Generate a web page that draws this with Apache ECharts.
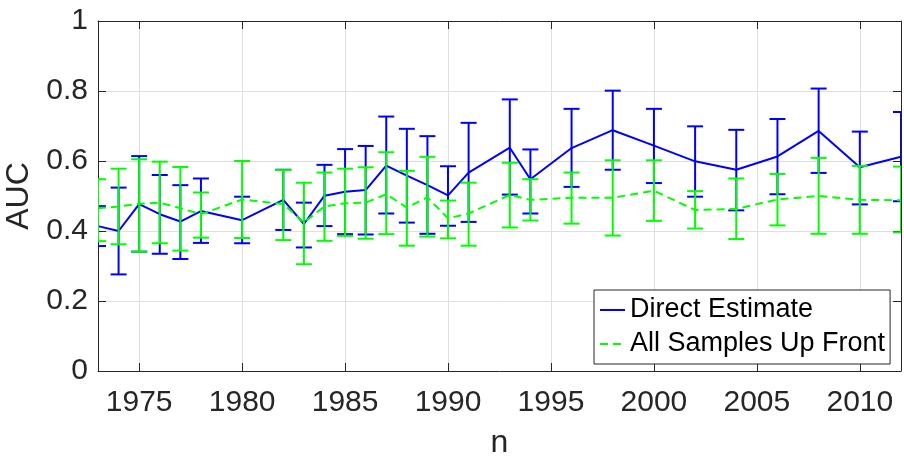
<!DOCTYPE html>
<html>
<head>
<meta charset="utf-8">
<script src="https://cdn.jsdelivr.net/npm/echarts@6/dist/echarts.min.js"></script>
<style>html,body{margin:0;padding:0;background:#fff}#c{width:904px;height:460px}</style>
</head>
<body>
<div id="c"></div>
<script>
const years = [1973,1974,1975,1976,1977,1978,1980,1982,1983,1984,1985,1986,1987,1988,1989,1990,1991,1993,1994,1996,1998,2000,2002,2004,2006,2008,2010,2012];

const directMean  = [0.414,0.400,0.477,0.448,0.427,0.457,0.431,0.489,0.420,0.501,0.512,0.517,0.587,0.558,0.531,0.502,0.567,0.638,0.548,0.637,0.688,0.644,0.599,0.575,0.613,0.686,0.582,0.612];
const directUpper = [0.471,0.524,0.614,0.560,0.531,0.550,0.498,0.575,0.481,0.589,0.634,0.643,0.727,0.692,0.671,0.585,0.709,0.776,0.633,0.749,0.801,0.749,0.699,0.689,0.720,0.807,0.684,0.740];
const directLower = [0.357,0.276,0.341,0.335,0.320,0.366,0.365,0.403,0.353,0.414,0.391,0.390,0.450,0.424,0.392,0.415,0.426,0.504,0.450,0.526,0.575,0.537,0.498,0.459,0.505,0.566,0.476,0.485];

const upfrontMean  = [0.465,0.470,0.478,0.481,0.465,0.448,0.490,0.477,0.424,0.470,0.479,0.481,0.505,0.467,0.496,0.436,0.450,0.503,0.489,0.495,0.495,0.515,0.460,0.463,0.490,0.500,0.489,0.488];
const upfrontUpper = [0.548,0.578,0.605,0.598,0.583,0.510,0.600,0.574,0.538,0.567,0.578,0.582,0.625,0.572,0.612,0.487,0.538,0.595,0.548,0.567,0.602,0.602,0.514,0.550,0.563,0.609,0.586,0.584];
const upfrontLower = [0.371,0.362,0.341,0.365,0.344,0.381,0.380,0.374,0.305,0.372,0.386,0.378,0.391,0.358,0.384,0.379,0.358,0.410,0.430,0.421,0.387,0.429,0.407,0.377,0.416,0.392,0.392,0.396];

const seriesNames = ['Direct Estimate', 'All Samples Up Front'];
const xTitle = 'n';
const yTitle = 'AUC';

const BLUE = '#0000ff', GREEN = '#00ff00', AX = '#262626';
const FONT = 'Liberation Sans, Arial, Helvetica, sans-serif';

function errData(lo, hi) { return years.map((y, i) => [y, lo[i], hi[i]]); }
function errRender(color) {
  return function (params, api) {
    const x = api.value(0);
    const lo = api.coord([x, api.value(1)]);
    const hi = api.coord([x, api.value(2)]);
    const h = 8;
    const st = { stroke: color, lineWidth: 2 };
    return {
      type: 'group',
      children: [
        { type: 'line', shape: { x1: lo[0], y1: lo[1], x2: hi[0], y2: hi[1] }, style: st },
        { type: 'line', shape: { x1: lo[0] - h, y1: lo[1], x2: lo[0] + h, y2: lo[1] }, style: st },
        { type: 'line', shape: { x1: hi[0] - h, y1: hi[1], x2: hi[0] + h, y2: hi[1] }, style: st }
      ]
    };
  };
}

const chart = echarts.init(document.getElementById('c'), null, { renderer: 'canvas' });
const xCommon = { type: 'value', min: 1973, max: 2012, splitNumber: 8, gridIndex: 0 };
const yCommon = { type: 'value', min: 0, max: 1, interval: 0.2 };
chart.setOption({
  animation: false,
  backgroundColor: '#fff',
  textStyle: { fontFamily: FONT },
  grid: { left: 98, top: 21, width: 803, height: 350, outerBoundsMode: 'none', containLabel: false },
  legend: {
    left: 594, top: 290, orient: 'vertical',
    data: seriesNames,
    backgroundColor: '#fff', borderColor: AX, borderWidth: 1, borderRadius: 0,
    padding: [5, 5, 5, 5], itemGap: 4, itemWidth: 25, itemHeight: 14,
    itemStyle: { opacity: 0 },
    textStyle: { fontSize: 27, color: '#000', fontFamily: FONT, lineHeight: 30 }
  },
  xAxis: [
    Object.assign({}, xCommon, {
      position: 'bottom',
      name: xTitle, nameLocation: 'middle', nameGap: 56,
      nameTextStyle: { fontSize: 32, color: AX, fontFamily: FONT },
      axisLine: { lineStyle: { color: AX, width: 1 } },
      axisTick: { inside: true, length: 8, lineStyle: { color: AX } },
      axisLabel: { fontSize: 30, color: AX, margin: 17, showMinLabel: false, showMaxLabel: false, fontFamily: FONT,
                   formatter: v => String(v) },
      splitLine: { show: true, lineStyle: { color: '#dfdfdf', width: 1 } }
    }),
    Object.assign({}, xCommon, {
      position: 'top',
      axisLine: { show: true, onZero: false, lineStyle: { color: AX, width: 1 } },
      axisTick: { inside: true, length: 8, lineStyle: { color: AX } },
      axisLabel: { show: false },
      splitLine: { show: false }
    })
  ],
  yAxis: [
    Object.assign({}, yCommon, {
      position: 'left',
      name: yTitle, nameLocation: 'middle', nameGap: 49, nameRotate: 90,
      nameTextStyle: { fontSize: 32, color: AX, fontFamily: FONT },
      axisLine: { show: true, lineStyle: { color: AX, width: 1 } },
      axisTick: { show: true, inside: true, length: 8, lineStyle: { color: AX } },
      axisLabel: { fontSize: 30, color: AX, margin: 10, fontFamily: FONT },
      splitLine: { show: true, lineStyle: { color: '#dfdfdf', width: 1 } }
    }),
    Object.assign({}, yCommon, {
      position: 'right',
      axisLine: { show: true, onZero: false, lineStyle: { color: AX, width: 1 } },
      axisTick: { show: true, inside: true, length: 8, lineStyle: { color: AX } },
      axisLabel: { show: false },
      splitLine: { show: false }
    })
  ],
  series: [
    {
      type: 'custom', name: seriesNames[0] + ' err', clip: true, z: 2,
      data: errData(directLower, directUpper), renderItem: errRender(BLUE),
      encode: { x: 0, y: [1, 2] }
    },
    {
      type: 'line', name: seriesNames[0], z: 3, symbol: 'none', clip: true,
      data: years.map((y, i) => [y, directMean[i]]),
      lineStyle: { color: BLUE, width: 2 }, itemStyle: { color: BLUE }
    },
    {
      type: 'custom', name: seriesNames[1] + ' err', clip: true, z: 4,
      data: errData(upfrontLower, upfrontUpper), renderItem: errRender(GREEN),
      encode: { x: 0, y: [1, 2] }
    },
    {
      type: 'line', name: seriesNames[1], z: 5, symbol: 'none', clip: true,
      data: years.map((y, i) => [y, upfrontMean[i]]),
      lineStyle: { color: GREEN, width: 2, type: [8, 5] }, itemStyle: { color: GREEN }
    }
  ]
});
</script>
</body>
</html>
